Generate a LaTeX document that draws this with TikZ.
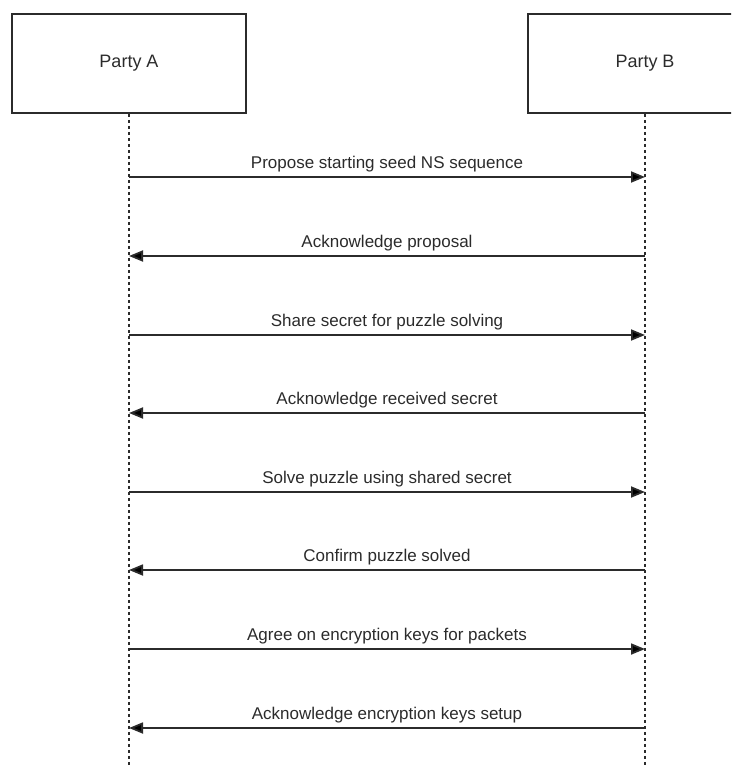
\documentclass[tikz,border=0pt]{standalone}
\usepackage{fontspec}
\setmainfont{Liberation Sans}
\usetikzlibrary{arrows.meta}
\definecolor{ink}{HTML}{2B2B2B}
\tikzset{
  party/.style={draw=ink, line width=1.7pt, minimum width=234pt, minimum height=99pt, inner sep=0pt, font=\fontsize{18}{21}\selectfont, text=ink},
  lifeline/.style={draw=ink, line width=1.6pt, dash pattern=on 3pt off 3pt},
  msg/.style={draw=ink, line width=1.8pt, -{Triangle[length=14pt,width=11pt,fill=black]}},
  msglabel/.style={font=\fontsize{17}{20}\selectfont, text=ink, inner sep=0pt, anchor=base}
}
\begin{document}
\begin{tikzpicture}[x=1pt,y=-1pt]
\useasboundingbox (0,0) rectangle (731,765);
\clip (0,0) rectangle (731,765);
\node[party] (A) at (129,63.5) {Party A};
\node[party] (B) at (645,63.5) {Party B};
\coordinate (Aend) at (129,765);
\coordinate (Bend) at (645,765);
\draw[lifeline] (A.south) -- (Aend);
\draw[lifeline] (B.south) -- (Bend);
\foreach \y/\dir/\txt in {177/r/Propose starting seed NS sequence,
  256/l/Acknowledge proposal,
  335/r/Share secret for puzzle solving,
  413/l/Acknowledge received secret,
  492/r/Solve puzzle using shared secret,
  570/l/Confirm puzzle solved,
  649/r/Agree on encryption keys for packets,
  728/l/Acknowledge encryption keys setup}{
  \coordinate (pa) at (129,\y);
  \coordinate (pb) at (645,\y);
  \if r\dir
    \draw[msg] (pa) -- (pb);
  \else
    \draw[msg] (pb) -- (pa);
  \fi
  \node[msglabel] (lbl) at (387,\y-9) {\txt};
}
\end{tikzpicture}
\end{document}
